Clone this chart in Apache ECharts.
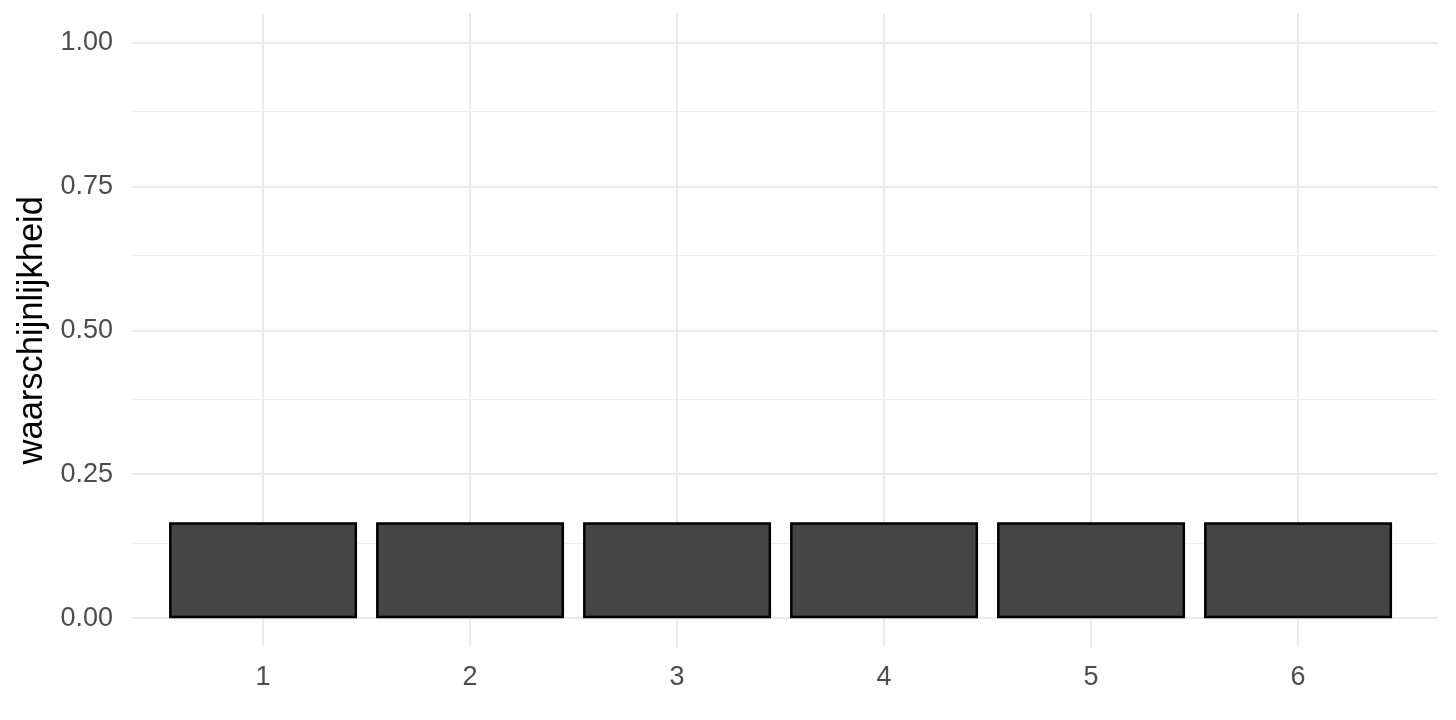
<!DOCTYPE html>
<html><head><meta charset="utf-8">
<script src="https://cdn.jsdelivr.net/npm/echarts@6/dist/echarts.min.js"></script>
<style>html,body{margin:0;padding:0;background:#fff}#c{width:1456px;height:720px}</style>
</head><body><div id="c"></div>
<script>
const categories = [1, 2, 3, 4, 5, 6];
const probabilities = [0.1667, 0.1667, 0.1667, 0.1667, 0.1667, 0.1667];
const yTicks = [0, 0.25, 0.5, 0.75, 1];
const yMinorTicks = [0.125, 0.375, 0.625, 0.875];
const yTitle = 'waarschijnlijkheid';

const chart = echarts.init(document.getElementById('c'), null, {renderer: 'canvas'});
const font = 'Liberation Sans, Arial, sans-serif';
const gridColor = '#ebebeb';

const gridLines = [].concat(
  categories.map(c => ({xAxis: c, lineStyle: {width: 2, color: gridColor, type: 'solid'}})),
  yTicks.map(v => ({yAxis: v, lineStyle: {width: 2, color: gridColor, type: 'solid'}})),
  yMinorTicks.map(v => ({yAxis: v, lineStyle: {width: 1.2, color: '#eeeeee', type: 'solid'}}))
);

chart.setOption({
  animation: false,
  backgroundColor: '#ffffff',
  grid: {left: 131, right: 18, top: 13.5, bottom: 73, containLabel: false},
  xAxis: {
    type: 'value', min: 0.362, max: 6.676,
    axisLine: {show: false}, axisTick: {show: false}, splitLine: {show: false},
    axisLabel: {customValues: categories, formatter: v => String(v), margin: 17,
      fontSize: 27, color: '#4d4d4d', fontFamily: font}
  },
  yAxis: {
    type: 'value', min: -0.05, max: 1.05,
    axisLine: {show: false}, axisTick: {show: false}, splitLine: {show: false},
    axisLabel: {customValues: yTicks, formatter: v => v.toFixed(2), margin: 18,
      fontSize: 27, color: '#4d4d4d', fontFamily: font, padding: [4, 0, 0, 0]},
    name: yTitle, nameLocation: 'middle', nameGap: 78,
    nameTextStyle: {fontSize: 34.5, color: '#000000', fontFamily: font}
  },
  series: [
    {
      type: 'line', data: [], z: 1, silent: true,
      markLine: {
        z: 1, silent: true, symbol: ['none', 'none'], label: {show: false},
        animation: false, data: gridLines
      }
    },
    {
      type: 'bar', z: 10, barWidth: 188,
      data: categories.map((c, i) => [c, probabilities[i]]),
      itemStyle: {color: '#454545', borderColor: '#000000', borderWidth: 2.5}
    }
  ]
});
</script></body></html>
